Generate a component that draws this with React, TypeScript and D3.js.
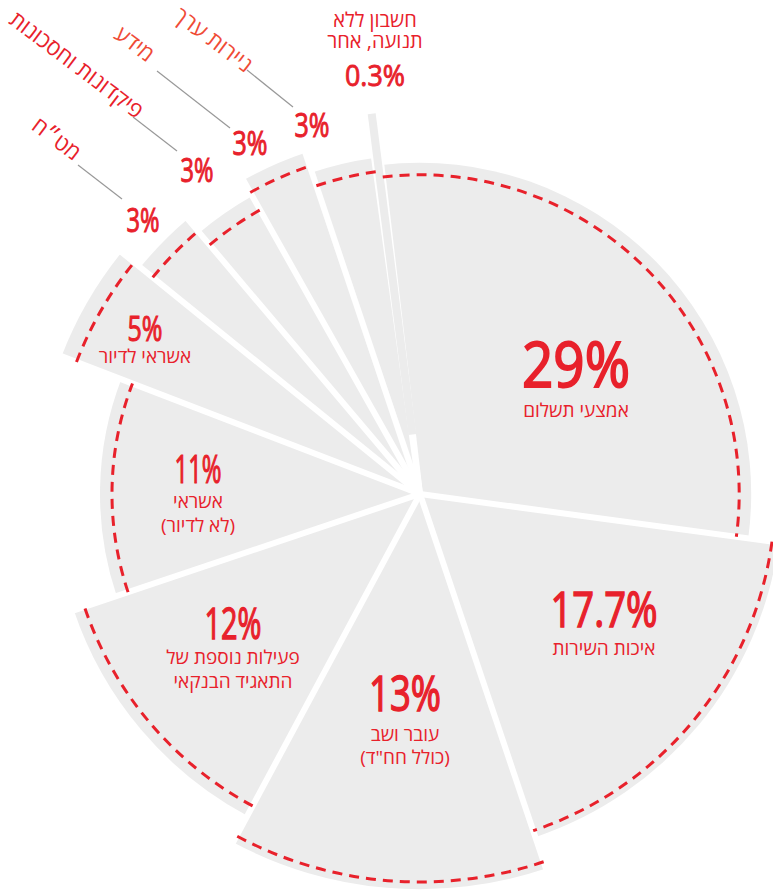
import * as d3 from 'd3';

// slice shares (angle) in %
const categories = [
  'אמצעי תשלום',
  'איכות השירות',
  'עובר ושב (כולל חח"ד)',
  'פעילות נוספת של התאגיד הבנקאי',
  'אשראי (לא לדיור)',
  'אשראי לדיור',
  'מט״ח',
  'פיקדונות וחסכונות',
  'מידע',
  'ניירות ערך',
  'חשבון ללא תנועה, אחר',
];
const shares = [29, 17.7, 13, 12, 11, 5, 3, 3, 3, 3, 0.3];
const shareLabels = ['29%', '17.7%', '13%', '12%', '11%', '5%', '3%', '3%', '3%', '3%', '0.3%'];
// outer radius of each grey slice and of its red dashed arc (0-100 scale)
const outerValues = [82.8, 90.5, 98.8, 91.3, 80, 96, 90, 85.5, 90, 84.8, 95.8];
const dashedValues: (number | null)[] = [79.8, 88.8, 97, 88.5, 77, 92, 86, 81.5, 86.5, 81.3, null];
const nameLines = [
  ['אמצעי תשלום'],
  ['איכות השירות'],
  ['עובר ושב', '(כולל חח"ד)'],
  ['פעילות נוספת של', 'התאגיד הבנקאי'],
  ['אשראי', '(לא לדיור)'],
  ['אשראי לדיור'],
  ['מט״ח'],
  ['פיקדונות וחסכונות'],
  ['מידע'],
  ['ניירות ערך'],
  ['חשבון ללא', 'תנועה, אחר'],
];

// label layout (page coords)
const labelLayout = [
  { x: 576, y: 387, size: 62, len: 108, nameY: 417, gap: 24 },
  { x: 604, y: 627, size: 50, len: 107, nameY: 655, gap: 24 },
  { x: 405, y: 711, size: 50, len: 72, nameY: 741, gap: 23 },
  { x: 233, y: 639, size: 44, len: 57, nameY: 664, gap: 24 },
  { x: 198, y: 483, size: 38, len: 47, nameY: 508, gap: 24 },
  { x: 145, y: 341, size: 35, len: 35, nameY: 363, gap: 24 },
  { x: 143, y: 232, size: 32, len: 33 },
  { x: 197, y: 182, size: 32, len: 33 },
  { x: 250, y: 155, size: 32, len: 35 },
  { x: 312, y: 137, size: 32, len: 35 },
  { x: 375, y: 86, size: 30, len: 60, nameY: 27, gap: 21 },
];
// rotated outside labels with leader lines
const outside = [
  { i: 6, x: 52, y: 145, line: [78, 165, 122, 199] },
  { i: 7, x: 72, y: 71, line: [133, 117, 177, 151] },
  { i: 8, x: 130, y: 50, line: [157, 71, 230, 128] },
  { i: 9, x: 209, y: 46, line: [247, 70, 293, 107] },
];

const W = 773;
const H = 890;
const cx = 420;
const cy = 494;
const startAngle = (-6.7 * Math.PI) / 180;
const RED = '#e8212b';
const GREY = '#ececec';
const FONT = "'Open Sans', 'Liberation Sans', 'DejaVu Sans', sans-serif";

export default function App() {
  const r = d3.scaleLinear().domain([0, 100]).range([0, 400]);
  const pie = d3
    .pie<number>()
    .sort(null)
    .value((d) => d)
    .startAngle(startAngle)
    .endAngle(startAngle + 2 * Math.PI);
  const arcsData = pie(shares);
  const arc = d3.arc<d3.PieArcDatum<number>>().innerRadius(0);

  // the 0.3% slice is too thin for the gaps, so draw it as a bar on top
  const sliver = arcsData[10];
  const sliverMid = (sliver.startAngle + sliver.endAngle) / 2;
  const [s0x, s0y] = d3.pointRadial(sliverMid, 60);
  const [s1x, s1y] = d3.pointRadial(sliverMid, r(outerValues[10]));

  return (
    <svg
      width={W}
      height={H}
      style={{ position: 'absolute', left: 0, top: 0, background: '#fff' }}
      fontFamily={FONT}
    >
      <g transform={`translate(${cx},${cy})`}>
        {arcsData.map((d, i) =>
          i === 10 ? null : (
            <path key={categories[i]} d={arc.outerRadius(r(outerValues[i]))(d) || ''} fill={GREY} />
          )
        )}
        {arcsData.map((d, i) => {
          const [x, y] = d3.pointRadial(d.startAngle, 420);
          return <line key={'g' + i} x1={0} y1={0} x2={x} y2={y} stroke="#fff" strokeWidth={6} />;
        })}
        <line x1={s0x} y1={s0y} x2={s1x} y2={s1y} stroke={GREY} strokeWidth={8} />
        {arcsData.map((d, i) => {
          const v = dashedValues[i];
          if (v == null) return null;
          const p = d3.path();
          p.arc(0, 0, r(v), d.startAngle - Math.PI / 2, d.endAngle - Math.PI / 2);
          return (
            <path
              key={'d' + i}
              d={p.toString()}
              fill="none"
              stroke={RED}
              strokeWidth={3}
              strokeDasharray="10 7"
            />
          );
        })}
      </g>

      {labelLayout.map((l, i) => (
        <g key={'l' + i} fill={RED}>
          <text
            x={l.x}
            y={l.y}
            textAnchor="middle"
            fontSize={l.size}
            fontWeight={400}
            stroke={RED}
            strokeWidth={l.size * 0.03}
            textLength={l.len}
            lengthAdjust="spacingAndGlyphs"
          >
            {shareLabels[i]}
          </text>
          {l.nameY != null &&
            nameLines[i].map((t, k) => (
              <text
                key={k}
                x={l.x}
                y={l.nameY + k * (l.gap || 24)}
                textAnchor="middle"
                fontSize={i === 10 ? 20 : 19}
                style={{ direction: 'rtl' }}
              >
                {t}
              </text>
            ))}
        </g>
      ))}

      {outside.map((o) => (
        <g key={'o' + o.i}>
          <line x1={o.line[0]} y1={o.line[1]} x2={o.line[2]} y2={o.line[3]} stroke="#999" strokeWidth={1.2} />
          <text
            transform={`translate(${o.x},${o.y}) rotate(37)`}
            textAnchor="middle"
            fontSize={22}
            fill={o.i === 8 || o.i === 9 ? '#ef4b36' : RED}
            style={{ direction: 'rtl' }}
          >
            {nameLines[o.i][0]}
          </text>
        </g>
      ))}
    </svg>
  );
}
